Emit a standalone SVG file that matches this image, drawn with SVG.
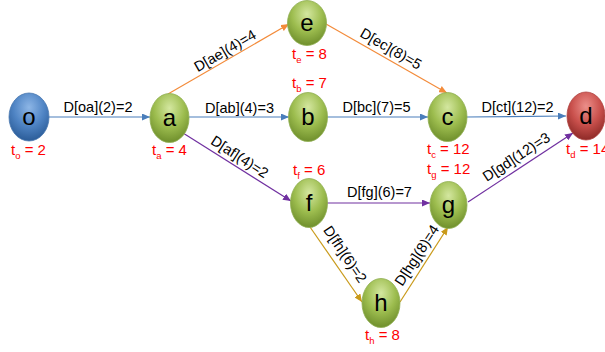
<svg xmlns="http://www.w3.org/2000/svg" width="605" height="352" viewBox="0 0 605 352">
<style>
.lbl{font-family:"Liberation Sans","Noto Sans",sans-serif;font-size:14.5px;fill:#000}
.nl{font-family:"Liberation Sans","Noto Sans",sans-serif;font-size:24px;fill:#000;text-anchor:middle}
.t{font-family:"Liberation Sans","Noto Sans",sans-serif;font-size:15px;fill:#ff0000}
.sub{font-size:9.5px}
.e{fill:none;stroke-width:1.2}
.blue{stroke:#4a7ebb}
.orange{stroke:#f38b3a}
.purple{stroke:#7030a0}
.gold{stroke:#c99a1a}
.g{fill:url(#gg);stroke:#8fae52;stroke-width:0.8}
.b{fill:url(#gb);stroke:#4a78b0;stroke-width:0.8}
.r{fill:url(#gr);stroke:#b04542;stroke-width:0.8}
</style>
<defs>
<radialGradient id="gg" cx="0.5" cy="0.3" r="0.7">
<stop offset="0" stop-color="#d4e7a0"/>
<stop offset="0.55" stop-color="#9dbd4f"/>
<stop offset="1" stop-color="#6f8f2c"/>
</radialGradient>
<radialGradient id="gb" cx="0.5" cy="0.3" r="0.7">
<stop offset="0" stop-color="#8db6e6"/>
<stop offset="0.55" stop-color="#4f84c4"/>
<stop offset="1" stop-color="#2b5c98"/>
</radialGradient>
<radialGradient id="gr" cx="0.5" cy="0.3" r="0.7">
<stop offset="0" stop-color="#ec8f8a"/>
<stop offset="0.55" stop-color="#c9504c"/>
<stop offset="1" stop-color="#8e2a27"/>
</radialGradient>
<marker id="ab" markerUnits="userSpaceOnUse" markerWidth="8" markerHeight="7" refX="8" refY="3.5" orient="auto"><path d="M0,0L8,3.5L0,7z" fill="#4a7ebb"/></marker>
<marker id="ao" markerUnits="userSpaceOnUse" markerWidth="8" markerHeight="7" refX="8" refY="3.5" orient="auto"><path d="M0,0L8,3.5L0,7z" fill="#f38b3a"/></marker>
<marker id="ap" markerUnits="userSpaceOnUse" markerWidth="8" markerHeight="7" refX="8" refY="3.5" orient="auto"><path d="M0,0L8,3.5L0,7z" fill="#7030a0"/></marker>
<marker id="ag" markerUnits="userSpaceOnUse" markerWidth="8" markerHeight="7" refX="8" refY="3.5" orient="auto"><path d="M0,0L8,3.5L0,7z" fill="#c99a1a"/></marker>
</defs>
<rect width="605" height="352" fill="#ffffff"/>
<g id="connectors">
<line class="e blue" x1="49" y1="117" x2="150" y2="117" marker-end="url(#ab)"/>
<line class="e blue" x1="189" y1="117" x2="289" y2="117" marker-end="url(#ab)"/>
<line class="e blue" x1="327" y1="117" x2="428" y2="117" marker-end="url(#ab)"/>
<line class="e blue" x1="467" y1="117" x2="566" y2="116" marker-end="url(#ab)"/>
<line class="e orange" x1="168" y1="94" x2="289" y2="24" marker-end="url(#ao)"/>
<line class="e orange" x1="326" y1="24" x2="447" y2="93" marker-end="url(#ao)"/>
<line class="e purple" x1="183" y1="133" x2="291" y2="201" marker-end="url(#ap)"/>
<line class="e purple" x1="327" y1="203" x2="430" y2="203" marker-end="url(#ap)"/>
<line class="e purple" x1="468" y1="202" x2="573" y2="133" marker-end="url(#ap)"/>
<line class="e gold" x1="310" y1="227" x2="362" y2="302" marker-end="url(#ag)"/>
<line class="e gold" x1="400" y1="302" x2="448" y2="227" marker-end="url(#ag)"/>
<text class="lbl" x="98" y="112" text-anchor="middle">D[oa](2)=2</text>
<text class="lbl" x="239.5" y="113" text-anchor="middle">D[ab](4)=3</text>
<text class="lbl" x="376.5" y="112" text-anchor="middle">D[bc](7)=5</text>
<text class="lbl" x="517.5" y="112" text-anchor="middle">D[ct](12)=2</text>
<text class="lbl" x="379.5" y="197" text-anchor="middle">D[fg](6)=7</text>
<text class="lbl" text-anchor="middle" transform="translate(227.5,55) rotate(-30)">D[ae](4)=4</text>
<text class="lbl" text-anchor="middle" transform="translate(388.5,53) rotate(30)">D[ec](8)=5</text>
<text class="lbl" text-anchor="middle" transform="translate(237,161) rotate(33)">D[af](4)=2</text>
<text class="lbl" text-anchor="middle" transform="translate(519,161) rotate(-33)">D[gd](12)=3</text>
<text class="lbl" text-anchor="middle" transform="translate(341,257) rotate(56)">D[fh](6)=2</text>
<text class="lbl" text-anchor="middle" transform="translate(421,258) rotate(-57)">D[hg](8)=4</text>
</g>
<g id="node-o"><ellipse class="b" cx="29" cy="117" rx="20" ry="24"/><text class="nl" x="29" y="125">o</text><text class="t" x="11" y="155">t<tspan class="sub" dy="4">o</tspan><tspan dy="-4"> = 2</tspan></text></g>
<g id="node-a"><ellipse class="g" cx="169.5" cy="118" rx="19.5" ry="24.5"/><text class="nl" x="169.5" y="126">a</text><text class="t" x="152" y="155">t<tspan class="sub" dy="4">a</tspan><tspan dy="-4"> = 4</tspan></text></g>
<g id="node-e"><ellipse class="g" cx="307" cy="23" rx="19.5" ry="22.5"/><text class="nl" x="307" y="31">e</text><text class="t" x="292" y="59">t<tspan class="sub" dy="4">e</tspan><tspan dy="-4"> = 8</tspan></text></g>
<g id="node-b"><ellipse class="g" cx="308" cy="117" rx="19.5" ry="24.5"/><text class="nl" x="308" y="125">b</text><text class="t" x="292" y="88">t<tspan class="sub" dy="4">b</tspan><tspan dy="-4"> = 7</tspan></text></g>
<g id="node-c"><ellipse class="g" cx="447.5" cy="117" rx="19.5" ry="24.5"/><text class="nl" x="447.5" y="125">c</text><text class="t" x="427" y="154">t<tspan class="sub" dy="4">c</tspan><tspan dy="-4"> = 12</tspan></text></g>
<g id="node-d"><ellipse class="r" cx="586" cy="116" rx="19" ry="24"/><text class="nl" x="586" y="124">d</text><text class="t" x="566" y="154">t<tspan class="sub" dy="4">d</tspan><tspan dy="-4"> = 14</tspan></text></g>
<g id="node-f"><ellipse class="g" cx="309" cy="203" rx="18.5" ry="24.5"/><text class="nl" x="309" y="211">f</text><text class="t" x="293" y="175">t<tspan class="sub" dy="4">f</tspan><tspan dy="-4"> = 6</tspan></text></g>
<g id="node-g"><ellipse class="g" cx="448.5" cy="205" rx="18.5" ry="23.5"/><text class="nl" x="448.5" y="213">g</text><text class="t" x="427" y="174">t<tspan class="sub" dy="4">g</tspan><tspan dy="-4"> = 12</tspan></text></g>
<g id="node-h"><ellipse class="g" cx="381" cy="303" rx="19" ry="24.5"/><text class="nl" x="381" y="311">h</text><text class="t" x="365" y="340">t<tspan class="sub" dy="4">h</tspan><tspan dy="-4"> = 8</tspan></text></g>
</svg>
